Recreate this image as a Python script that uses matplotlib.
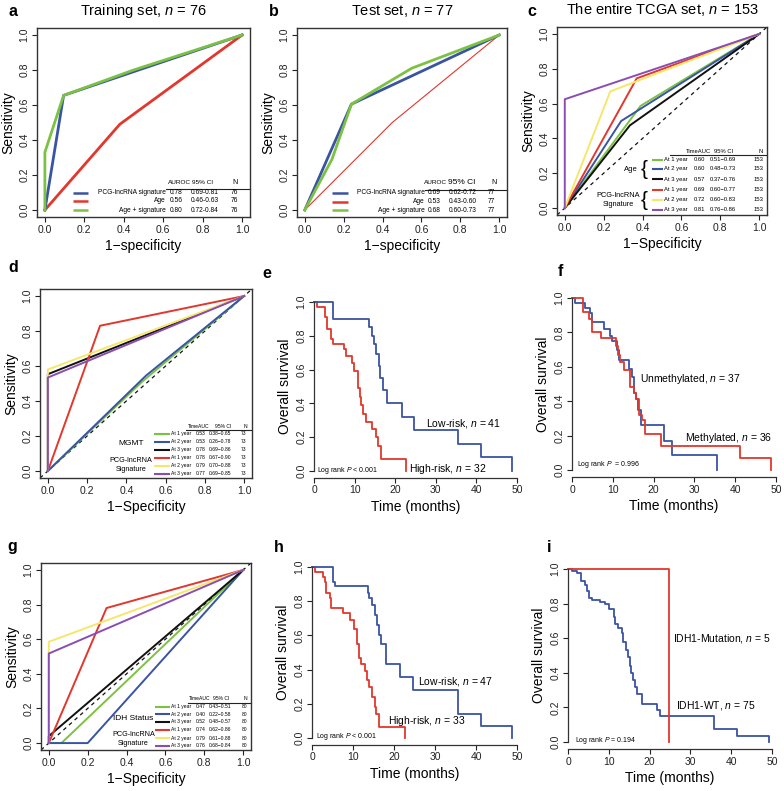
import matplotlib
matplotlib.use("Agg")
import matplotlib.pyplot as plt

plt.rcParams['font.family'] = ['Liberation Sans', 'DejaVu Sans']
plt.rcParams['mathtext.fontset'] = 'custom'
plt.rcParams['mathtext.rm'] = 'Liberation Sans'
plt.rcParams['mathtext.it'] = 'Liberation Sans:italic'
plt.rcParams['axes.unicode_minus'] = True

W, H = 784, 791
BLUE = '#3a54a4'
RED = '#e2372c'
GREEN = '#7cc242'
YELLOW = '#f5e76a'
PURPLE = '#8a4db3'
BLACK = '#111111'

# ---- panel a: training set ROC
a_sig_x = [0, 0.095, 1]
a_sig_y = [0, 0.655, 1]
a_age_x = [0, 0.38, 1]
a_age_y = [0, 0.49, 1]
a_comb_x = [0, 0, 0.095, 0.45, 1]
a_comb_y = [0, 0.33, 0.655, 0.80, 1]
a_names = ['PCG-lncRNA signature', 'Age', 'Age + signature']
a_auc = ['0.78', '0.56', '0.80']
a_ci = ['0.69-0.81', '0.46-0.63', '0.72-0.84']
a_n = ['76', '76', '76']

# ---- panel b: test set ROC
b_sig_x = [0, 0.24, 1]
b_sig_y = [0, 0.605, 1]
b_age_x = [0, 0.45, 1]
b_age_y = [0, 0.50, 1]
b_comb_x = [0, 0.14, 0.24, 0.55, 1]
b_comb_y = [0, 0.29, 0.605, 0.81, 1]
b_names = ['PCG-lncRNA signature', 'Age', 'Age + signature']
b_auc = ['0.69', '0.53', '0.68']
b_ci = ['0.62-0.72', '0.43-0.60', '0.60-0.73']
b_n = ['77', '77', '77']

# ---- time-dependent ROC tables (c, d, g)
years = ['At 1 year', 'At 2 year', 'At 3 year', 'At 1 year', 'At 2 year', 'At 3 year']
roc_colors = [GREEN, BLUE, BLACK, RED, YELLOW, PURPLE]

c_x = [[0, 0.39, 1], [0, 0.29, 1], [0, 0.335, 1], [0, 0.37, 1], [0, 0.234, 1], [0, 0, 1]]
c_y = [[0, 0.587, 1], [0, 0.50, 1], [0, 0.475, 1], [0, 0.745, 1], [0, 0.67, 1], [0, 0.625, 1]]
c_auc = ['0.60', '0.60', '0.57', '0.69', '0.72', '0.81']
c_ci = ['0.51−0.69', '0.48−0.73', '0.37−0.76', '0.60−0.77', '0.60−0.83', '0.76−0.86']
c_n = ['153'] * 6

d_x = [[0, 0.48, 1], [0, 0.5, 1], [0, 0, 1], [0, 0.266, 1], [0, 0, 1], [0, 0, 1]]
d_y = [[0, 0.51, 1], [0, 0.545, 1], [0, 0.553, 1], [0, 0.83, 1], [0, 0.58, 1], [0, 0.534, 1]]
d_auc = ['0.53', '0.53', '0.78', '0.78', '0.79', '0.77']
d_ci = ['0.38−0.65', '0.26−0.78', '0.69−0.86', '0.67−0.90', '0.70−0.88', '0.69−0.85']
d_n = ['73'] * 6

g_x = [[0, 0.065, 1], [0, 0.2, 1], [0, 0, 1], [0, 0.297, 1], [0, 0, 1], [0, 0, 1]]
g_y = [[0, 0, 1], [0, 0, 1], [0, 0.04, 1], [0, 0.78, 1], [0, 0.585, 1], [0, 0.517, 1]]
g_auc = ['0.47', '0.40', '0.52', '0.74', '0.79', '0.76']
g_ci = ['0.43−0.51', '0.22−0.58', '0.48−0.57', '0.62−0.86', '0.61−0.88', '0.68−0.84']
g_n = ['80'] * 6

# ---- Kaplan-Meier curves
e_low_t = [0, 4.75, 13.5, 14.2, 14.8, 15.2, 16.0, 16.2, 17.0, 18.0, 21.7, 24.6, 35.5, 41.2, 48.8]
e_low_s = [1.0, 0.90, 0.85, 0.80, 0.75, 0.69, 0.62, 0.55, 0.48, 0.40, 0.32, 0.24, 0.16, 0.08, 0.0]
e_high_t = [0, 0.8, 2.7, 3.1, 4.1, 4.8, 7.4, 7.8, 9.3, 9.8, 10.9, 11.3, 11.6, 12.0, 12.7, 14.3, 15.2, 15.7, 16.4, 22.7]
e_high_s = [1.0, 0.97, 0.91, 0.84, 0.78, 0.75, 0.72, 0.68, 0.64, 0.59, 0.49, 0.44, 0.39, 0.34, 0.29, 0.25, 0.20, 0.15, 0.07, 0.0]

f_un_t = [0, 0.8, 3.3, 4.5, 5.0, 7.8, 9.3, 9.8, 11.1, 11.5, 13.9, 14.8, 15.2, 15.8, 16.1, 16.8, 22.5, 24.6, 35.5]
f_un_s = [1.0, 0.97, 0.94, 0.91, 0.86, 0.82, 0.78, 0.75, 0.70, 0.64, 0.59, 0.54, 0.45, 0.41, 0.35, 0.26, 0.17, 0.09, 0.0]
f_me_t = [0, 2.6, 4.1, 4.9, 7.1, 10.9, 11.3, 11.7, 12.7, 14.2, 15.2, 15.6, 16.4, 17.2, 18.0, 21.7, 41.2, 48.8]
f_me_s = [1.0, 0.92, 0.88, 0.80, 0.77, 0.72, 0.67, 0.63, 0.58, 0.48, 0.45, 0.41, 0.32, 0.29, 0.21, 0.14, 0.07, 0.0]

h_low_t = [0, 5.0, 5.7, 13.7, 14.0, 14.6, 15.3, 15.9, 16.3, 16.9, 18.0, 21.5, 24.6, 35.6, 41.3, 48.8]
h_low_s = [1.0, 0.91, 0.89, 0.85, 0.82, 0.78, 0.72, 0.66, 0.60, 0.55, 0.43, 0.355, 0.28, 0.14, 0.07, 0.0]
h_high_t = [0, 0.8, 2.7, 3.1, 3.4, 4.3, 4.7, 7.6, 9.3, 10.2, 11.0, 11.4, 12.0, 13.0, 13.4, 13.8, 14.6, 15.3, 15.7, 16.3, 22.6]
h_high_s = [1.0, 0.97, 0.94, 0.91, 0.85, 0.82, 0.76, 0.73, 0.69, 0.64, 0.55, 0.47, 0.43, 0.39, 0.34, 0.30, 0.24, 0.18, 0.14, 0.065, 0.0]

i_mut_t = [0, 24.8]
i_mut_s = [1.0, 0.0]
i_wt_t = [0, 1.0, 2.2, 3.2, 4.2, 4.7, 5.1, 5.9, 7.8, 9.0, 10.0, 11.2, 11.6, 12.3, 13.2, 13.6, 14.1,
          14.6, 15.1, 15.5, 15.9, 16.3, 16.9, 18.1, 21.8, 22.6, 35.9, 41.4, 49.2]
i_wt_s = [1.0, 0.99, 0.975, 0.93, 0.91, 0.87, 0.83, 0.82, 0.81, 0.80, 0.77, 0.72, 0.68, 0.66, 0.63,
          0.58, 0.53, 0.49, 0.44, 0.40, 0.36, 0.32, 0.28, 0.22, 0.185, 0.15, 0.075, 0.035, 0.0]

fig = plt.figure(figsize=(W / 100, H / 100), dpi=100)


def px_rect(left, right, top, bottom):
    return [left / W, 1 - bottom / H, (right - left) / W, (bottom - top) / H]


def ftext(x, y, s, **kw):
    fig.text(x / W, 1 - y / H, s, **kw)


def roc_axes(left, right, top, bottom, xlabel):
    ax = fig.add_axes(px_rect(left, right, top, bottom))
    ax.set_xlim(-0.04, 1.04)
    ax.set_ylim(-0.04, 1.04)
    ticks = [0, 0.2, 0.4, 0.6, 0.8, 1.0]
    ax.set_xticks(ticks, ['%.1f' % t for t in ticks])
    ax.set_yticks(ticks, ['%.1f' % t for t in ticks])
    ax.tick_params(labelsize=7.5, length=3.5, width=0.8, pad=2, colors='#222222')
    ax.tick_params(axis='y', labelrotation=90)
    for lbl in ax.get_yticklabels():
        lbl.set_va('center')
    for sp in ax.spines.values():
        sp.set_linewidth(1.0)
        sp.set_color('#333333')
    ax.set_xlabel(xlabel, fontsize=10, labelpad=3)
    ax.set_ylabel('Sensitivity', fontsize=10, labelpad=3)
    return ax


def km_axes(x0, x50, y1, y0):
    sx = (x50 - x0) / 50.0
    sy = (y0 - y1)
    ax = fig.add_axes(px_rect(x0 - sx, x50 + sx, y1 - 0.04 * sy, y0 + 0.04 * sy))
    ax.set_xlim(-1, 51)
    ax.set_ylim(-0.04, 1.04)
    ax.spines['top'].set_visible(False)
    ax.spines['right'].set_visible(False)
    ax.spines['left'].set_position(('data', 0))
    ax.spines['left'].set_bounds(0, 1)
    ax.spines['bottom'].set_bounds(0, 50)
    for sp in ['left', 'bottom']:
        ax.spines[sp].set_linewidth(0.9)
        ax.spines[sp].set_color('#333333')
    ax.set_xticks([0, 10, 20, 30, 40, 50])
    ticks = [0, 0.2, 0.4, 0.6, 0.8, 1.0]
    ax.set_yticks(ticks, ['%.1f' % t for t in ticks])
    ax.tick_params(labelsize=7.5, length=3.5, width=0.8, pad=2, colors='#222222')
    ax.tick_params(axis='y', labelrotation=90)
    for lbl in ax.get_yticklabels():
        lbl.set_va('center')
    ax.set_xlabel('Time (months)', fontsize=10, labelpad=3)
    ax.set_ylabel('Overall survival', fontsize=10, labelpad=3)
    return ax


def three_row_table(ax, names, aucs, cis, ns, colors, rows_y, head_y, rule_y, xs, ci_size=4.6):
    lx0, lx1, lab_r, x_auc, x_ci, x_n, h_auc, h_ci, h_n = xs
    ax.text(h_auc, head_y, 'AUROC', fontsize=4.6, transform=ax.transAxes, va='center')
    ax.text(h_ci, head_y, '95% CI', fontsize=ci_size, transform=ax.transAxes, va='center')
    ax.text(h_n, head_y, 'N', fontsize=5, transform=ax.transAxes, va='center')
    ax.plot([lab_r, 1.0], [rule_y, rule_y], color='#222222', lw=0.8, transform=ax.transAxes, clip_on=False)
    for k in range(len(names)):
        y = rows_y[k]
        ax.plot([lx0, lx1], [y, y], color=colors[k], lw=1.8, transform=ax.transAxes, solid_capstyle='butt')
        ax.text(lab_r, y, names[k], fontsize=4.8, ha='right', va='center', transform=ax.transAxes)
        ax.text(x_auc, y, aucs[k], fontsize=4.8, va='center', transform=ax.transAxes)
        ax.text(x_ci, y, cis[k], fontsize=4.8, va='center', transform=ax.transAxes)
        ax.text(x_n, y, ns[k], fontsize=4.8, va='center', transform=ax.transAxes)


def time_table(ax, aucs, cis, ns, rows_y, head_y, rule_x, rule_y, xs, fs):
    lx0, lx1, x_lab, x_auc, x_ci, x_n, h_auc, h_ci, h_n = xs
    ax.text(h_auc, head_y, 'TimeAUC', fontsize=fs, transform=ax.transAxes, va='center')
    ax.text(h_ci, head_y, '95% CI', fontsize=fs, transform=ax.transAxes, va='center')
    ax.text(h_n, head_y, 'N', fontsize=fs, transform=ax.transAxes, va='center')
    ax.plot([rule_x, 1.0], [rule_y, rule_y], color='#222222', lw=0.8, transform=ax.transAxes, clip_on=False)
    for k in range(6):
        y = rows_y[k]
        ax.plot([lx0, lx1], [y, y], color=roc_colors[k], lw=1.5, transform=ax.transAxes, solid_capstyle='butt')
        ax.text(x_lab, y, years[k], fontsize=fs, va='center', transform=ax.transAxes)
        ax.text(x_auc, y, aucs[k], fontsize=fs, va='center', transform=ax.transAxes)
        ax.text(x_ci, y, cis[k], fontsize=fs, va='center', transform=ax.transAxes)
        ax.text(x_n, y, ns[k], fontsize=fs, va='center', transform=ax.transAxes)


# ===== a
ax = roc_axes(37, 250, 28, 217, '1−specificity')
ax.plot(a_age_x, a_age_y, color=RED, lw=2.0)
ax.plot(a_sig_x, a_sig_y, color=BLUE, lw=2.0)
ax.plot(a_comb_x, a_comb_y, color=GREEN, lw=2.0)
three_row_table(ax, a_names, a_auc, a_ci, a_n, [BLUE, RED, GREEN],
                [0.127, 0.085, 0.035], 0.18, 0.148,
                (0.17, 0.24, 0.605, 0.625, 0.72, 0.91, 0.615, 0.73, 0.915))

# ===== b
ax = roc_axes(297, 507, 28, 217, '1−specificity')
ax.plot(b_age_x, b_age_y, color=RED, lw=0.8)
ax.plot(b_sig_x, b_sig_y, color=BLUE, lw=2.0)
ax.plot(b_comb_x, b_comb_y, color=GREEN, lw=2.0)
three_row_table(ax, b_names, b_auc, b_ci, b_n, [BLUE, RED, GREEN],
                [0.127, 0.08, 0.035], 0.18, 0.142,
                (0.167, 0.243, 0.61, 0.625, 0.725, 0.91, 0.605, 0.72, 0.925), ci_size=6)

# ===== c
ax = roc_axes(557, 767, 27, 215, '1−Specificity')
ax.plot([-0.04, 1.04], [-0.04, 1.04], color=BLACK, lw=0.9, ls=(0, (3, 3)))
for k in range(6):
    ax.plot(c_x[k], c_y[k], color=roc_colors[k], lw=1.4)
time_table(ax, c_auc, c_ci, c_n, [0.293, 0.245, 0.19, 0.133, 0.08, 0.027], 0.34, 0.54, 0.318,
           (0.452, 0.505, 0.51, 0.65, 0.725, 0.935, 0.615, 0.75, 0.96), fs=4.2)
ax.text(0.415, 0.240, '{', fontsize=15, ha='center', va='center', transform=ax.transAxes)
ax.text(0.415, 0.077, '{', fontsize=15, ha='center', va='center', transform=ax.transAxes)
ax.text(0.385, 0.243, 'Age', fontsize=5.5, ha='right', va='center', transform=ax.transAxes)
ax.text(0.29, 0.08, 'PCG-lncRNA\nSignature', fontsize=5.3, ha='center', va='center',
        transform=ax.transAxes, linespacing=1.3)

# ===== d
ax = roc_axes(40, 252, 289, 478, '1−Specificity')
ax.plot([-0.04, 1.04], [-0.04, 1.04], color=BLACK, lw=0.9, ls=(0, (3, 3)))
for k in range(6):
    ax.plot(d_x[k], d_y[k], color=roc_colors[k], lw=1.4)
time_table(ax, d_auc, d_ci, d_n, [0.233, 0.191, 0.149, 0.107, 0.065, 0.023], 0.275, 0.69, 0.253,
           (0.54, 0.613, 0.62, 0.733, 0.797, 0.945, 0.70, 0.825, 0.96), fs=3.6)
ax.text(0.43, 0.185, 'MGMT', fontsize=6, ha='center', va='center', transform=ax.transAxes)
ax.text(0.43, 0.07, 'PCG-lncRNA\nSignature', fontsize=5.2, ha='center', va='center',
        transform=ax.transAxes, linespacing=1.3)

# ===== g
ax = roc_axes(41, 251, 563, 750, '1−Specificity')
ax.plot([-0.04, 1.04], [-0.04, 1.04], color=BLACK, lw=0.9, ls=(0, (3, 3)))
for k in range(6):
    ax.plot(g_x[k], g_y[k], color=roc_colors[k], lw=1.4)
time_table(ax, g_auc, g_ci, g_n, [0.23, 0.19, 0.15, 0.107, 0.064, 0.022], 0.278, 0.70, 0.252,
           (0.543, 0.614, 0.62, 0.735, 0.797, 0.955, 0.705, 0.82, 0.965), fs=3.6)
ax.text(0.44, 0.17, 'IDH Status', fontsize=6, ha='center', va='center', transform=ax.transAxes)
ax.text(0.44, 0.06, 'PCG-lncRNA\nSignature', fontsize=5.2, ha='center', va='center',
        transform=ax.transAxes, linespacing=1.3)

# ===== e
ax = km_axes(314, 517, 302, 471)
ax.step(e_high_t, e_high_s, where='post', color=RED, lw=1.3)
ax.step(e_low_t, e_low_s, where='post', color=BLUE, lw=1.3)
ax.text(27.5, 0.28, r'Low-risk, $\it{n}$ = 41', fontsize=7.5, va='center')
ax.text(23.4, 0.01, r'High-risk, $\it{n}$ = 32', fontsize=7.5, va='center')
ax.text(0.8, 0.0, r'Log rank $\it{P}$ < 0.001', fontsize=5, va='center')

# ===== f
ax = km_axes(572, 776, 298, 470)
ax.step(f_un_t, f_un_s, where='post', color=BLUE, lw=1.3)
ax.step(f_me_t, f_me_s, where='post', color=RED, lw=1.3)
ax.text(16.6, 0.53, r'Unmethylated, $\it{n}$ = 37', fontsize=7.5, va='center')
ax.text(27.7, 0.185, r'Methylated, $\it{n}$ = 36', fontsize=7.5, va='center')
ax.text(1.2, 0.03, r'Log rank $\it{P}$  = 0.996', fontsize=5, va='center')

# ===== h
ax = km_axes(312, 517, 567, 738)
ax.step(h_high_t, h_high_s, where='post', color=RED, lw=1.3)
ax.step(h_low_t, h_low_s, where='post', color=BLUE, lw=1.3)
ax.text(25.8, 0.33, r'Low-risk, $\it{n}$ = 47', fontsize=7.5, va='center')
ax.text(18.5, 0.10, r'High-risk, $\it{n}$ = 33', fontsize=7.5, va='center')
ax.text(1.0, 0.01, r'Log rank $\it{P}$ < 0.001', fontsize=5, va='center')

# ===== i
ax = km_axes(568, 772, 569, 742)
ax.step(i_wt_t, i_wt_s, where='post', color=BLUE, lw=1.3)
ax.step(i_mut_t, i_mut_s, where='post', color=RED, lw=1.3)
ax.text(25.7, 0.60, r'IDH1-Mutation, $\it{n}$ = 5', fontsize=7.5, va='center')
ax.text(26.5, 0.21, r'IDH1-WT, $\it{n}$ = 75', fontsize=7.5, va='center')
ax.text(1.8, 0.01, r'Log rank $\it{P}$ = 0.194', fontsize=5, va='center')

# titles and panel letters
ftext(143, 11, r'Training set, $\it{n}$ = 76', fontsize=10.5, ha='center', va='center')
ftext(402, 11, r'Test set, $\it{n}$ = 77', fontsize=10.5, ha='center', va='center')
ftext(662, 10, r'The entire TCGA set, $\it{n}$ = 153', fontsize=10.5, ha='center', va='center')
for letter, x, y in [('a', 13, 11), ('b', 274, 11), ('c', 532, 11), ('d', 13, 268), ('e', 267, 273),
                     ('f', 560, 272), ('g', 12, 546), ('h', 279, 548), ('i', 549, 548)]:
    ftext(x, y, letter, fontsize=11.5, fontweight='bold', ha='center', va='center')

fig.savefig('out.png', dpi=100)
